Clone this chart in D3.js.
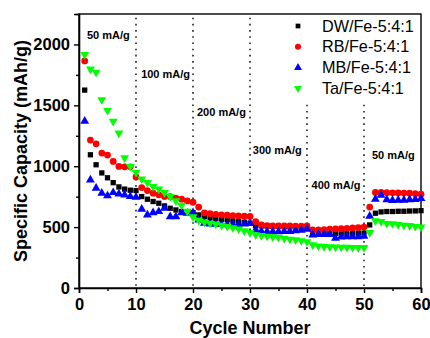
<!DOCTYPE html>
<html lang="en">
<head>
<meta charset="UTF-8">
<title>rate</title>
<script src="https://cdn.jsdelivr.net/npm/d3@7"></script>
<style>
    body { margin: 0; background: #fff; }
    text { font-family: "Liberation Sans", Arial, sans-serif; }
</style>
</head>
<body>
<svg id="chart" width="430" height="338"></svg>
<script>
    const cycles = d3.range(1, 61);
    const seriesNames = ['DW/Fe-5:4:1', 'RB/Fe-5:4:1', 'MB/Fe-5:4:1', 'Ta/Fe-5:4:1'];
    const dw = [1625,1094,1012,945,905,865,830,812,803,800,
                751,729,710,696,674,655,641,628,625,619,
                600,586,575,570,565,560,552,545,540,532,
                512,510,508,506,505,503,502,500,498,496,
                455,452,450,450,449,449,449,450,451,452,
                518,614,625,628,628,630,630,632,633,635];
    const rb = [1865,1215,1184,1108,1092,1039,998,995,995,912,
                825,800,779,765,751,751,738,729,715,705,
                665,617,610,605,600,598,595,592,590,588,
                545,518,512,510,510,510,510,508,508,510,
                477,477,480,483,485,487,490,493,496,500,
                665,785,785,783,782,781,780,778,774,770];
    const mb = [1370,888,820,779,757,784,773,765,751,746,
                647,600,619,628,655,586,586,619,614,619,
                559,532,525,525,522,520,522,520,525,530,
                477,465,463,463,463,465,465,470,475,483,
                436,440,440,440,408,420,422,422,422,425,
                590,729,762,725,720,722,722,725,728,735];
    const ta = [1916,1798,1771,1546,1458,1368,1272,1069,998,950,
                895,866,833,812,784,751,715,680,630,585,
                555,540,532,525,515,505,495,485,470,455,
                436,430,425,420,415,408,400,395,388,380,
                354,345,340,338,336,335,334,333,332,332,
                455,552,545,530,528,520,515,512,505,500];
    const xTicks = [0, 10, 20, 30, 40, 50, 60];
    const yTicks = [0, 500, 1000, 1500, 2000];
    // dotted rate boundaries: cycle, value where the line starts at the top
    const bounds = [[10, 2220], [20, 2220], [30, 2220], [40, 1505], [50, 1505]];
    // current density labels: text, cycle, value (left/middle of text)
    const rates = [['50 mA/g', 1.4, 2080], ['100 mA/g', 10.9, 1752], ['200 mA/g', 20.7, 1442],
                   ['300 mA/g', 30.5, 1135], ['400 mA/g', 40.8, 847], ['50 mA/g', 51.4, 1094]];

    const width = 430, height = 338;
    const margin = {left: 79, right: 9, top: 14, bottom: 50};
    const svg = d3.select('#chart');
    const x = d3.scaleLinear().domain([0, 60]).range([margin.left, width - margin.right]);
    const y = d3.scaleLinear().domain([0, 2250]).range([height - margin.bottom, margin.top]);

    // frame
    svg.append('rect')
        .attr('x', x(0)).attr('y', y(2250))
        .attr('width', x(60) - x(0)).attr('height', y(0) - y(2250))
        .attr('fill', 'none').attr('stroke', '#000').attr('stroke-width', 1.4);

    // dotted lines
    svg.selectAll('line.bound').data(bounds).join('line')
        .attr('class', 'bound')
        .attr('x1', d => x(d[0])).attr('x2', d => x(d[0]))
        .attr('y1', d => y(d[1])).attr('y2', y(0))
        .attr('stroke', '#000').attr('stroke-width', 1.4)
        .attr('stroke-dasharray', '1.6,4.6');

    svg.selectAll('text.rate').data(rates).join('text')
        .attr('class', 'rate')
        .attr('x', d => x(d[1])).attr('y', d => y(d[2]))
        .attr('dy', '0.35em')
        .attr('font-size', 11).attr('font-weight', 'bold')
        .text(d => d[0]);

    // axes
    svg.append('g').attr('transform', `translate(0,${y(0)})`)
        .call(d3.axisBottom(x).tickValues(xTicks).tickSize(5).tickPadding(5).tickFormat(d3.format('d')));
    svg.append('g').attr('transform', `translate(0,${y(0)})`)
        .call(d3.axisBottom(x).tickValues(d3.range(5, 60, 10)).tickSize(3).tickFormat(''))
        .select('.domain').remove();
    svg.append('g').attr('transform', `translate(${x(0)},0)`)
        .call(d3.axisLeft(y).tickValues(yTicks).tickSize(5).tickPadding(4).tickFormat(d3.format('d')));
    svg.append('g').attr('transform', `translate(${x(0)},0)`)
        .call(d3.axisLeft(y).tickValues([250, 750, 1250, 1750, 2250]).tickSize(3).tickFormat(''))
        .select('.domain').remove();
    svg.selectAll('.domain').attr('stroke-width', 1.6);
    svg.selectAll('.tick line').attr('stroke-width', 1.4);
    svg.selectAll('.tick text').attr('font-size', 16.5).attr('font-weight', 'bold')
        .attr('font-family', '"Liberation Sans", Arial, sans-serif').attr('fill', '#000');

    svg.append('text').text('Cycle Number')
        .attr('x', (x(0) + x(60)) / 2).attr('y', 334)
        .attr('text-anchor', 'middle').attr('font-size', 18).attr('font-weight', 'bold');
    svg.append('text').text('Specific Capacity (mAh/g)')
        .attr('transform', `translate(27,${(y(0) + y(2250)) / 2}) rotate(-90)`)
        .attr('text-anchor', 'middle').attr('font-size', 18).attr('font-weight', 'bold');

    // markers
    const series = [
        {name: seriesNames[0], values: dw, color: '#000000', shape: d3.symbolSquare, size: 28, rot: 0},
        {name: seriesNames[1], values: rb, color: '#ff0000', shape: d3.symbolCircle, size: 36, rot: 0},
        {name: seriesNames[2], values: mb, color: '#0000ff', shape: d3.symbolTriangle, size: 34, rot: 0},
        {name: seriesNames[3], values: ta, color: '#00ff00', shape: d3.symbolTriangle, size: 34, rot: 180}
    ];
    series.forEach(s => {
        const sym = d3.symbol().type(s.shape).size(s.size);
        svg.append('g').selectAll('path').data(s.values).join('path')
            .attr('d', sym)
            .attr('transform', (d, i) => `translate(${x(cycles[i])},${y(d)}) rotate(${s.rot})`)
            .attr('fill', s.color);
    });

    // legend
    const legend = svg.append('g').selectAll('g').data(series).join('g')
        .attr('transform', (d, i) => `translate(298,${26 + i * 20.8})`);
    legend.append('path')
        .attr('d', d => d3.symbol().type(d.shape).size(d.size * 0.8)())
        .attr('transform', d => `rotate(${d.rot})`)
        .attr('fill', d => d.color);
    legend.append('text')
        .attr('x', 24).attr('dy', '0.35em')
        .attr('font-size', 16.2)
        .text(d => d.name);
</script>
</body>
</html>
